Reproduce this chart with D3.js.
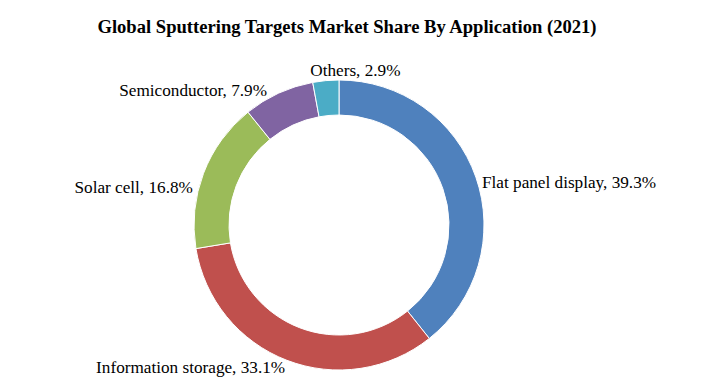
<!DOCTYPE html>
<html>
<head>
<meta charset="utf-8">
<script src="https://cdn.jsdelivr.net/npm/d3@7"></script>
<style>
    body { margin: 0; background: #fff; }
    svg { display: block; }
</style>
</head>
<body>
<div id="chart"></div>
<script>
const categories = ['Flat panel display', 'Information storage', 'Solar cell', 'Semiconductor', 'Others'];
const shares = [39.3, 33.1, 16.8, 7.9, 2.9];
const colors = ['#4f81bd', '#c0504d', '#9bbb59', '#8064a2', '#4bacc6'];

// label tweaks, like the spreadsheet's own placement (dx, dy, anchor)
const labelNudge = [
    [1.4, 12.5, 'start'],
    [0, 8, 'end'],
    [-6, 21.5, 'end'],
    [-9.4, 7.3, 'end'],
    [30, 0.4, 'middle']
];

const svgWidth = 713;
const svgHeight = 387;
const cx = 339, cy = 225;
const outerR = 145, innerR = 110, labelR = 150;

const svg = d3.select('#chart')
    .append('svg')
    .attr('width', svgWidth)
    .attr('height', svgHeight);

svg.append('text')
    .attr('x', 347)
    .attr('y', 33)
    .attr('text-anchor', 'middle')
    .style('font-family', '"Liberation Serif", "Times New Roman", serif')
    .style('font-weight', 'bold')
    .style('font-size', '18.6px')
    .style('fill', '#000')
    .text('Global Sputtering Targets Market Share By Application (2021)');

const rows = categories.map((c, i) => ({name: c, value: shares[i], i}));

const pie = d3.pie().sort(null).value(d => d.value);
const arcs = pie(rows);

const arc = d3.arc().innerRadius(innerR).outerRadius(outerR);
const g = svg.append('g').attr('transform', `translate(${cx},${cy})`);

g.selectAll('path.slice')
    .data(arcs)
    .join('path')
    .attr('class', 'slice')
    .attr('d', arc)
    .attr('fill', d => colors[d.data.i])
    .attr('stroke', '#fff')
    .attr('stroke-width', 1);

g.selectAll('text.label')
    .data(arcs)
    .join('text')
    .attr('class', 'label')
    .attr('x', d => {
        const a = (d.startAngle + d.endAngle) / 2;
        return labelR * Math.sin(a) + labelNudge[d.data.i][0];
    })
    .attr('y', d => {
        const a = (d.startAngle + d.endAngle) / 2;
        return -labelR * Math.cos(a) + labelNudge[d.data.i][1];
    })
    .attr('text-anchor', d => labelNudge[d.data.i][2])
    .style('font-family', '"Liberation Serif", "Times New Roman", serif')
    .style('font-size', '17.2px')
    .style('fill', '#000')
    .text(d => `${d.data.name}, ${d.data.value.toFixed(1)}%`);
</script>
</body>
</html>
